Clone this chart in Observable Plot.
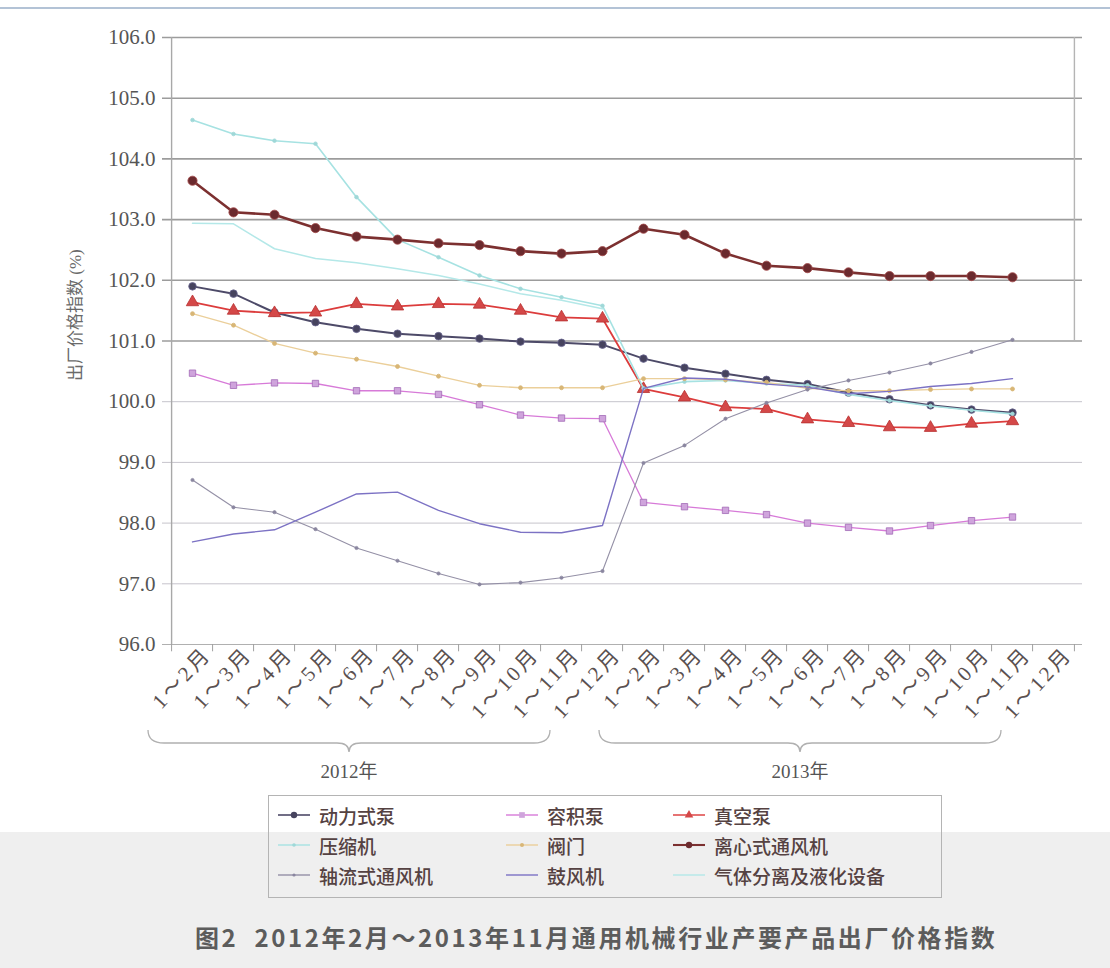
<!DOCTYPE html>
<html>
<head>
<meta charset="utf-8">
<script src="https://cdn.jsdelivr.net/npm/d3@7"></script>
<script src="https://cdn.jsdelivr.net/npm/@observablehq/plot@0.6"></script>
<style>
  body { margin: 0; background: #fff; width: 1110px; height: 968px; position: relative; overflow: hidden;
         font-family: "Liberation Serif", "Noto Sans CJK SC", serif; }
  #topline { position: absolute; left: 0; top: 7px; width: 1110px; height: 2px; background: #b3c3d6; }
  #band { position: absolute; left: 0; top: 832px; width: 1110px; height: 136px; background: #efefef; }
  #chart { position: absolute; left: 0; top: 0; }
  #chart svg { font-family: "Liberation Serif", "Noto Sans CJK SC", serif; }
  #legend { position: absolute; left: 268px; top: 795px; width: 674px; height: 103px;
            border: 1.5px solid #b4b4b4; box-sizing: border-box; }
  .item { position: absolute; display: flex; align-items: center; font-size: 19px; color: #554242;
          font-family: "Noto Sans CJK SC", sans-serif; font-weight: 500; line-height: 1; }
  .item svg { margin-right: 8px; }
  #caption { position: absolute; left: 195px; top: 919px; font-size: 24px; letter-spacing: 2.6px; font-weight: bold; color: #5c5c5c;
             font-family: "Noto Sans CJK SC", sans-serif; white-space: pre; }
</style>
</head>
<body>
<div id="topline"></div>
<div id="band"></div>
<div id="chart"></div>
<div id="legend"></div>
<div id="caption">图2  2012年2月～2013年11月通用机械行业产要产品出厂价格指数</div>
<script>
// Periods: cumulative months of 2012 and 2013
const categories = [
  "2012-02","2012-03","2012-04","2012-05","2012-06","2012-07","2012-08","2012-09","2012-10","2012-11","2012-12",
  "2013-02","2013-03","2013-04","2013-05","2013-06","2013-07","2013-08","2013-09","2013-10","2013-11","2013-12"
];
const tickLabels = [
  "1～2月","1～3月","1～4月","1～5月","1～6月","1～7月","1～8月","1～9月","1～10月","1～11月","1～12月",
  "1～2月","1～3月","1～4月","1～5月","1～6月","1～7月","1～8月","1～9月","1～10月","1～11月","1～12月"
];
const years = ["2012年", "2013年"];
const yTicks = [96, 97, 98, 99, 100, 101, 102, 103, 104, 105, 106];

const seriesNames = ["动力式泵","容积泵","真空泵","压缩机","阀门","离心式通风机","轴流式通风机","鼓风机","气体分离及液化设备"];

// Ex-factory price index (%), one value per period (2012-02 … 2013-11)
const powerPump = [101.90,101.78,101.47,101.31,101.20,101.12,101.08,101.04,100.99,100.97,100.94,
                   100.71,100.56,100.46,100.36,100.29,100.15,100.04,99.94,99.87,99.82];
const displacementPump = [100.47,100.27,100.31,100.30,100.18,100.18,100.12,99.95,99.78,99.73,99.72,
                          98.34,98.27,98.21,98.14,98.00,97.93,97.87,97.96,98.04,98.10];
const vacuumPump = [101.64,101.50,101.46,101.47,101.61,101.57,101.61,101.60,101.50,101.39,101.37,
                    100.21,100.07,99.91,99.88,99.71,99.65,99.58,99.57,99.64,99.68];
const compressor = [104.64,104.41,104.30,104.25,103.37,102.67,102.38,102.08,101.86,101.72,101.58,
                    100.22,100.33,100.35,100.30,100.27,100.12,100.02,99.93,99.86,99.80];
const valve = [101.45,101.26,100.96,100.80,100.70,100.58,100.42,100.27,100.23,100.23,100.23,
               100.38,100.38,100.36,100.32,100.22,100.18,100.18,100.20,100.21,100.21];
const centrifugalFan = [103.64,103.12,103.08,102.86,102.72,102.67,102.61,102.58,102.48,102.44,102.48,
                        102.85,102.75,102.44,102.24,102.20,102.13,102.07,102.07,102.07,102.05];
const axialFan = [98.71,98.26,98.18,97.90,97.59,97.38,97.17,96.99,97.02,97.10,97.21,
                  98.99,99.28,99.72,99.98,100.20,100.35,100.48,100.63,100.82,101.02];
const blower = [97.69,97.82,97.89,98.18,98.48,98.51,98.21,97.99,97.85,97.84,97.96,
                100.22,100.39,100.37,100.29,100.24,100.13,100.17,100.25,100.30,100.38];
const gasSeparation = [102.94,102.93,102.52,102.36,102.29,102.19,102.08,101.94,101.78,101.67,101.53,
                       null,null,null,null,null,null,null,null,null,null];

const seriesValues = [powerPump, displacementPump, vacuumPump, compressor, valve,
                      centrifugalFan, axialFan, blower, gasSeparation];

// Drawing style for each series (line + optional marker)
const styles = [
  {stroke: "#4d4a68", width: 2,   symbol: "circle",   r: 3.8, fill: "#46435e", mstroke: "#6a6690"},
  {stroke: "#d77ad8", width: 1.3, symbol: "square",   r: 3.6, fill: "#cfa4dc", mstroke: "#a26ab6"},
  {stroke: "#dc3c3c", width: 1.8, symbol: "triangle", r: 4.6, fill: "#d44848", mstroke: "#b83030"},
  {stroke: "#a6e2e2", width: 1.6, symbol: "circle",   r: 1.8, fill: "#9fd8d8", mstroke: "#9fd8d8"},
  {stroke: "#ebcf9a", width: 1.3, symbol: "circle",   r: 2.0, fill: "#d8b676", mstroke: "#d8b676"},
  {stroke: "#7c3030", width: 2.6, symbol: "circle",   r: 4.6, fill: "#6b2a2e", mstroke: "#a24848"},
  {stroke: "#9490a6", width: 1.1, symbol: "circle",   r: 1.6, fill: "#8a86a0", mstroke: "#8a86a0"},
  {stroke: "#7c72c4", width: 1.4, symbol: null},
  {stroke: "#b4e8e8", width: 1.5, symbol: null}
];

const rows = [];
seriesNames.forEach((name, s) => {
  seriesValues[s].forEach((v, i) => rows.push({series: name, period: categories[i], value: v}));
});

const W = 1110, H = 790, mL = 162, mR = 28, mT = 37, mB = 146;
const step = (W - mL - mR) / categories.length;
const font = "Liberation Serif, Noto Sans CJK SC, serif";

const seriesMarks = [];
seriesNames.forEach((name, s) => {
  const st = styles[s];
  const data = rows.filter(d => d.series === name);
  seriesMarks.push(Plot.line(data, {x: "period", y: "value", stroke: st.stroke, strokeWidth: st.width, curve: "linear"}));
  if (st.symbol) {
    seriesMarks.push(Plot.dot(data.filter(d => d.value != null), {
      x: "period", y: "value", symbol: st.symbol, r: st.r, fill: st.fill, stroke: st.mstroke, strokeWidth: 0.8
    }));
  }
});

const labelOf = new Map(categories.map((c, i) => [c, tickLabels[i]]));

const plot = Plot.plot({
  width: W, height: H,
  marginLeft: mL, marginRight: mR, marginTop: mT, marginBottom: mB,
  style: {fontFamily: font, background: "transparent", overflow: "visible"},
  x: {type: "point", domain: categories, padding: 0.5, axis: null},
  y: {domain: [96, 106], axis: null},
  marks: [
    // horizontal grid
    Plot.ruleY(yTicks.filter(v => v >= 101), {y: d => d, stroke: "#9c9c9c", strokeWidth: 1.6}),
    Plot.ruleY(yTicks.filter(v => v > 96 && v < 101), {y: d => d, stroke: "#c6c4cc", strokeWidth: 1}),
    Plot.ruleY([96], {stroke: "#b0b0b0", strokeWidth: 1.2}),
    // left axis line and right border
    Plot.ruleX([categories[0]], {x: d => d, y1: 96, y2: 106, dx: -step / 2, stroke: "#a8a8a8", strokeWidth: 1.4}),
    Plot.ruleX([categories[categories.length - 1]], {x: d => d, y1: 101, y2: 106, dx: step / 2, stroke: "#b4b4b4", strokeWidth: 1.4}),
    // period boundary ticks
    Plot.ruleX(categories, {x: d => d, y1: 96, y2: 95.88, dx: -step / 2, stroke: "#a0a0a0"}),
    Plot.ruleX([categories[categories.length - 1]], {x: d => d, y1: 96, y2: 95.88, dx: step / 2, stroke: "#a0a0a0"}),
    Plot.axisY(yTicks, {tickSize: 0, tickPadding: 7, tickFormat: d => d.toFixed(1), fontSize: 21,
                        fontFamily: font, fill: "#555", label: null}),
    Plot.axisX({tickSize: 0, tickPadding: 6, tickRotate: -47, tickFormat: d => labelOf.get(d),
                fontSize: 21, fontFamily: font, fill: "#5a5050", dx: 15, label: null}),
    Plot.text(["出厂价格指数 (%)"], {frameAnchor: "left", dx: -87, dy: 40, rotate: -90, fontSize: 17,
                                  fontFamily: font, fill: "#6a6a6a"}),
    ...seriesMarks
  ]
});

const svg = d3.select(plot);
// widen the period labels a little (their glyphs are spaced out)
const periodLabelSet = new Set(tickLabels);
svg.selectAll("text").filter(function () { return periodLabelSet.has(this.textContent); })
   .style("letter-spacing", "3px");

// year braces under the period labels
const xs = plot.scale("x");
years.forEach((yr) => {
  const cats = categories.filter(c => c.startsWith(yr.slice(0, 4)));
  const x1 = xs.apply(cats[0]) - 44;
  const x2 = xs.apply(cats[cats.length - 1]) - 52;
  const mid = (x1 + x2) / 2;
  const yT = 730, yB = 743, yTip = 752;
  const p = `M${x1},${yT} Q${x1},${yB} ${x1 + 16},${yB} L${mid - 12},${yB} Q${mid},${yB} ${mid},${yTip}` +
            ` Q${mid},${yB} ${mid + 12},${yB} L${x2 - 16},${yB} Q${x2},${yB} ${x2},${yT}`;
  svg.append("path").attr("d", p).attr("fill", "none").attr("stroke", "#b0b0b0").attr("stroke-width", 1.3);
  svg.append("text").attr("x", mid).attr("y", 778).attr("text-anchor", "middle")
     .attr("font-size", 19).attr("fill", "#555").attr("font-family", font).text(yr);
});

document.getElementById("chart").appendChild(plot);

// legend: 3 columns x 3 rows
const legend = document.getElementById("legend");
const colX = [8, 236, 403];
const rowY = [8, 38, 68];
seriesNames.forEach((name, s) => {
  const st = styles[s];
  const item = document.createElement("div");
  item.className = "item";
  item.style.left = colX[s % 3] + "px";
  item.style.top = rowY[Math.floor(s / 3)] + "px";
  const sw = d3.create("svg").attr("width", 34).attr("height", 22);
  sw.append("line").attr("x1", 1).attr("x2", 33).attr("y1", 11).attr("y2", 11)
    .attr("stroke", st.stroke).attr("stroke-width", Math.max(1.4, st.width * 0.8));
  if (st.symbol) {
    const sym = d3.symbol(st.symbol === "triangle" ? d3.symbolTriangle : st.symbol === "square" ? d3.symbolSquare : d3.symbolCircle,
                          Math.PI * Math.pow(Math.min(st.r, 3.2), 2));
    sw.append("path").attr("d", sym()).attr("transform", "translate(17,11)").attr("fill", st.fill);
  }
  item.appendChild(sw.node());
  const t = document.createElement("span");
  t.textContent = name;
  item.appendChild(t);
  legend.appendChild(item);
});
</script>
</body>
</html>
